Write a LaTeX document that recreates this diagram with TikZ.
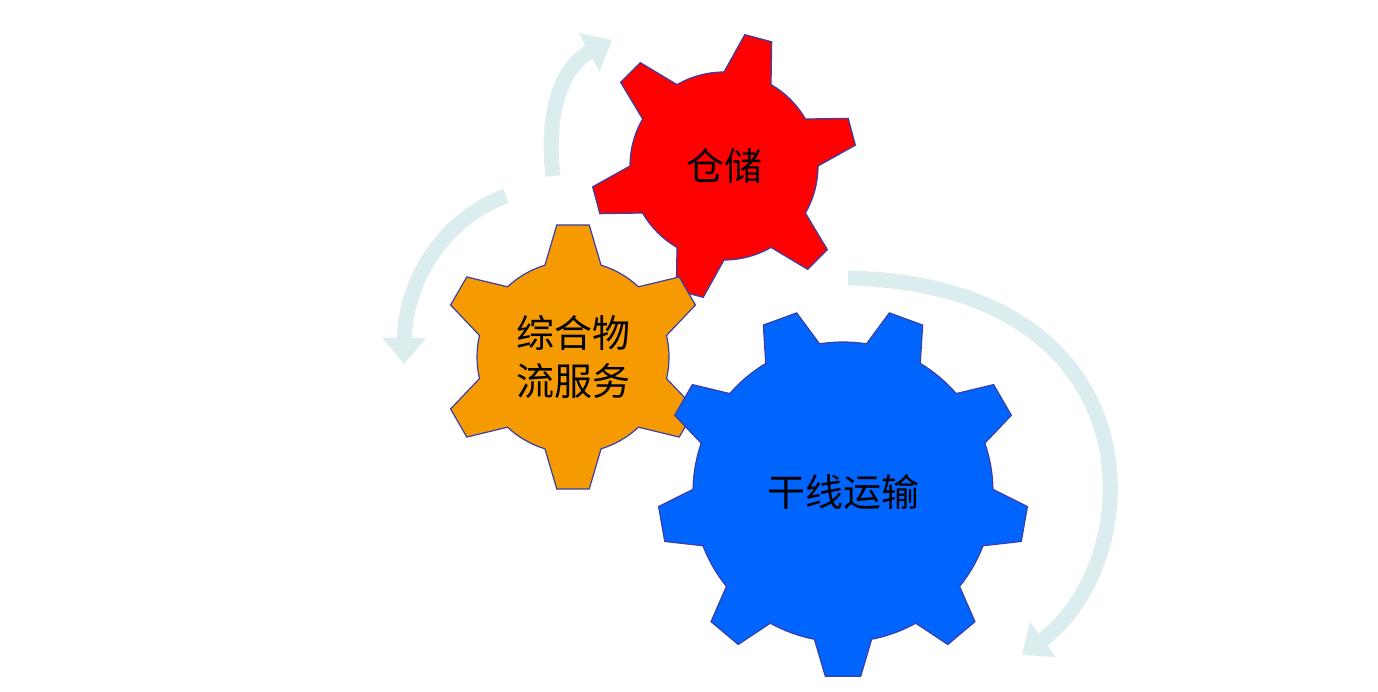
\documentclass[tikz,border=0pt]{standalone}
\usepackage{fontspec}
\newfontfamily\cjk{Noto Sans CJK SC}
\usetikzlibrary{arrows.meta}
\definecolor{gred}{HTML}{FF0000}
\definecolor{gorange}{HTML}{F59A00}
\definecolor{gblue}{HTML}{0064FF}
\definecolor{gedge}{HTML}{3A3FA8}
\definecolor{garrow}{HTML}{DCEDEF}
\tikzset{
  gearfill/.style={draw=gedge,line width=1.2pt},
  cyc/.style={draw=garrow,line width=15pt,-{Triangle[width=42pt,length=26pt]}},
  glabel/.style={font=\cjk\fontsize{38}{48}\selectfont,align=center,text=black}
}
% #1 center, #2 n teeth, #3 start angle, #4 rin, #5 rout, #6 half base, #7 half tip, #8 style
\newcommand{\mygear}[8]{%
  \pgfmathsetmacro{\stp}{360/#2}%
  \begin{scope}[shift={(#1)}]
  \draw[#8] ({#3-#6}:#4)
  \foreach \i in {1,...,#2}{
    -- ({#3+(\i-1)*\stp-#7}:#5) -- ({#3+(\i-1)*\stp+#7}:#5)
    -- ({#3+(\i-1)*\stp+#6}:#4) arc[start angle={#3+(\i-1)*\stp+#6}, end angle={#3+\i*\stp-#6}, radius=#4]
  } -- cycle;
  \end{scope}}
\begin{document}
\begin{tikzpicture}[x=1pt,y=-1pt]
\useasboundingbox (0,0) rectangle (1378,691);
\fill[white] (0,0) rectangle (1378,691);
% arrows
\coordinate (a1s) at (553,176); \coordinate (a1e) at (612,40);
\draw[cyc] (a1s) .. controls (545,105) and (565,65) .. (a1e);
\coordinate (a2s) at (506,196); \coordinate (a2e) at (404,364);
\draw[cyc] (a2s) .. controls (440,220) and (405,285) .. (a2e);
\coordinate (a3s) at (848,278); \coordinate (a3e) at (1022,655);
\draw[cyc] (a3s) .. controls (1160,285) and (1150,560) .. (a3e);
% gears
\coordinate (cr) at (724,166);
\coordinate (co) at (573,357);
\coordinate (cb) at (843,492);
\mygear{cr}{6}{105}{94}{133}{15}{6}{gearfill,fill=gred}
\mygear{co}{6}{90}{96}{133}{17}{7}{gearfill,fill=gorange}
\mygear{cb}{9}{90}{150}{185}{11}{5.5}{gearfill,fill=gblue}
\node[glabel] (t1) at (cr) {仓储};
\node[glabel] (t2) at (co) {综合物\\流服务};
\node[glabel] (t3) at (cb) {干线运输};
\end{tikzpicture}
\end{document}
